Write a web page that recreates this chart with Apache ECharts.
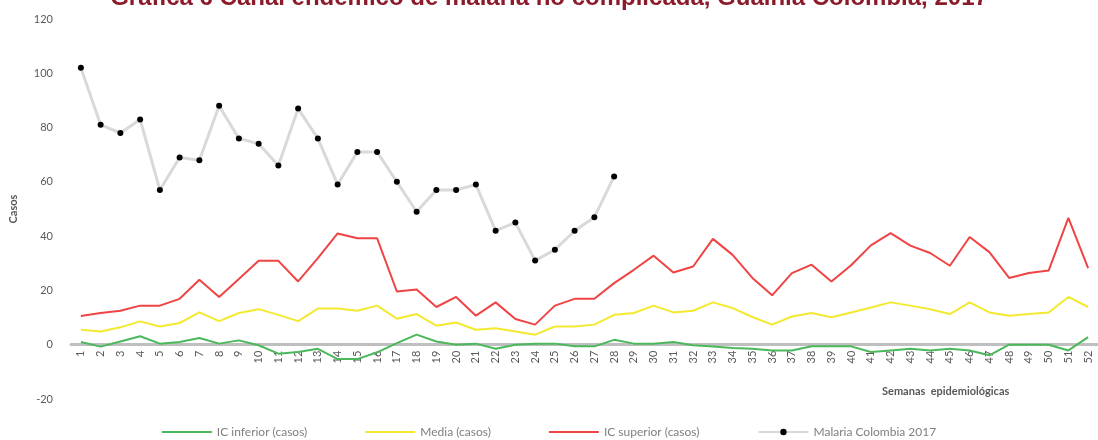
<!DOCTYPE html>
<html>
<head>
<meta charset="utf-8">
<title>Canal endémico malaria Guainía 2017</title>
<script src="https://cdn.jsdelivr.net/npm/echarts@6/dist/echarts.min.js"></script>
<style>
  html, body { margin: 0; padding: 0; background: #fff; }
  #chart { width: 1098px; height: 440px; }
</style>
</head>
<body>
<div id="chart"></div>
<script>
// semanas epidemiologicas 1..52
var semanas = ['1','2','3','4','5','6','7','8','9','10','11','12','13','14','15','16','17','18','19','20',
  '21','22','23','24','25','26','27','28','29','30','31','32','33','34','35','36','37','38','39','40',
  '41','42','43','44','45','46','47','48','49','50','51','52'];

var icInferior = [1.0, -0.7, 1.2, 3.1, 0.4, 1.0, 2.5, 0.4, 1.6, -0.2, -3.3, -2.7, -1.5, -5.3, -5.3, -2.8, 0.6, 3.7, 1.2, 0.0,
  0.4, -1.5, 0.0, 0.4, 0.4, -0.6, -0.6, 1.8, 0.4, 0.4, 1.0, -0.2, -0.7, -1.2, -1.5, -2.1, -2.1, -0.6, -0.6, -0.6,
  -2.7, -2.1, -1.5, -2.1, -1.5, -2.1, -3.9, 0.0, 0.0, 0.0, -2.1, 2.8];

var media = [5.5, 4.9, 6.4, 8.6, 6.7, 8.0, 11.9, 8.7, 11.7, 13.1, 11.0, 8.7, 13.3, 13.3, 12.5, 14.4, 9.6, 11.3, 7.0, 8.2,
  5.5, 6.1, 4.9, 3.7, 6.7, 6.7, 7.4, 11.0, 11.7, 14.4, 11.9, 12.5, 15.6, 13.5, 10.2, 7.4, 10.4, 11.7, 10.1, 11.9,
  13.7, 15.6, 14.4, 13.1, 11.3, 15.6, 11.9, 10.7, 11.3, 11.9, 17.6, 13.9];

var icSuperior = [10.6, 11.7, 12.5, 14.4, 14.4, 16.9, 23.9, 17.6, 24.2, 30.9, 30.9, 23.3, 31.9, 41.0, 39.2, 39.2, 19.6, 20.3, 13.9, 17.6,
  10.7, 15.6, 9.5, 7.4, 14.4, 16.9, 16.9, 22.7, 27.6, 32.8, 26.6, 28.8, 39.0, 33.1, 24.6, 18.2, 26.4, 29.5, 23.3, 29.3,
  36.6, 41.1, 36.5, 33.8, 29.1, 39.7, 34.1, 24.6, 26.4, 27.3, 46.7, 28.2];

// casos 2017, reportados hasta la semana 28
var casos2017 = [102, 81, 78, 83, 57, 69, 68, 88, 76, 74, 66, 87, 76, 59, 71, 71, 60, 49, 57, 57,
  59, 42, 45, 31, 35, 42, 47, 62];

var yTicks = { min: -20, max: 120, interval: 20 };

var txtGris = '#595959';
var fuente = 'Lato, "Open Sans", sans-serif';
var iconoLinea = 'path://M0,0H50V2H0Z';

// grid: el eje x va sobre el 0, no abajo
var gridTop = 19, gridH = 380;
var offsetCero = -gridH * (0 - yTicks.min) / (yTicks.max - yTicks.min);

var myChart = echarts.init(document.getElementById('chart'));

var option = {
  animation: false,
  textStyle: { fontFamily: fuente },
  title: [
    {
      text: 'Gráfica 6 Canal endémico de malaria no complicada, Guainía Colombia, 2017',
      left: 'center',
      top: -19,
      textStyle: { color: '#8B1A2B', fontSize: 24, fontWeight: 'bold', fontFamily: '"Liberation Sans", Arial, sans-serif' }
    },
    {
      text: 'Semanas  epidemiológicas',
      left: 877,
      top: 381,
      textStyle: { color: txtGris, fontSize: 11, fontWeight: 'bold', fontFamily: fuente }
    }
  ],
  legend: {
    bottom: -3,
    left: 'center',
    itemWidth: 50,
    itemHeight: 8,
    itemGap: 58,
    textStyle: { color: '#7f7f7f', fontSize: 12 },
    data: [
      { name: 'IC inferior (casos)', icon: iconoLinea },
      { name: 'Media (casos)', icon: iconoLinea },
      { name: 'IC superior (casos)', icon: iconoLinea },
      { name: 'Malaria Colombia 2017' }
    ]
  },
  grid: { left: 70, top: gridTop, right: -12, height: gridH, containLabel: false },
  xAxis: {
    type: 'category',
    data: semanas,
    boundaryGap: true,
    position: 'bottom',
    offset: offsetCero,
    axisLine: { onZero: false, lineStyle: { color: '#BFBFBF', width: 3 } },
    axisTick: { show: false },
    axisLabel: { rotate: 90, color: txtGris, fontSize: 11, margin: 6, interval: 0 }
  },
  yAxis: {
    type: 'value',
    min: yTicks.min,
    max: yTicks.max,
    interval: yTicks.interval,
    name: 'Casos',
    nameLocation: 'middle',
    nameRotate: 90,
    nameGap: 52,
    nameTextStyle: { color: txtGris, fontSize: 11, fontWeight: 'bold' },
    axisLine: { show: false },
    axisTick: { show: false },
    splitLine: { show: false },
    axisLabel: { color: txtGris, fontSize: 11, margin: 18 }
  },
  series: [
    {
      name: 'IC inferior (casos)', type: 'line', data: icInferior,
      symbol: 'none', lineStyle: { color: '#4CB85C', width: 2 }, itemStyle: { color: '#4CB85C' }
    },
    {
      name: 'Media (casos)', type: 'line', data: media,
      symbol: 'none', lineStyle: { color: '#F3E930', width: 2 }, itemStyle: { color: '#F3E930' }
    },
    {
      name: 'IC superior (casos)', type: 'line', data: icSuperior,
      symbol: 'none', lineStyle: { color: '#F04444', width: 2 }, itemStyle: { color: '#F04444' }
    },
    {
      name: 'Malaria Colombia 2017', type: 'line', data: casos2017,
      symbol: 'circle', symbolSize: 6,
      lineStyle: { color: '#D9D9D9', width: 3 },
      itemStyle: { color: '#000' }
    }
  ]
};

myChart.setOption(option);
</script>
</body>
</html>
